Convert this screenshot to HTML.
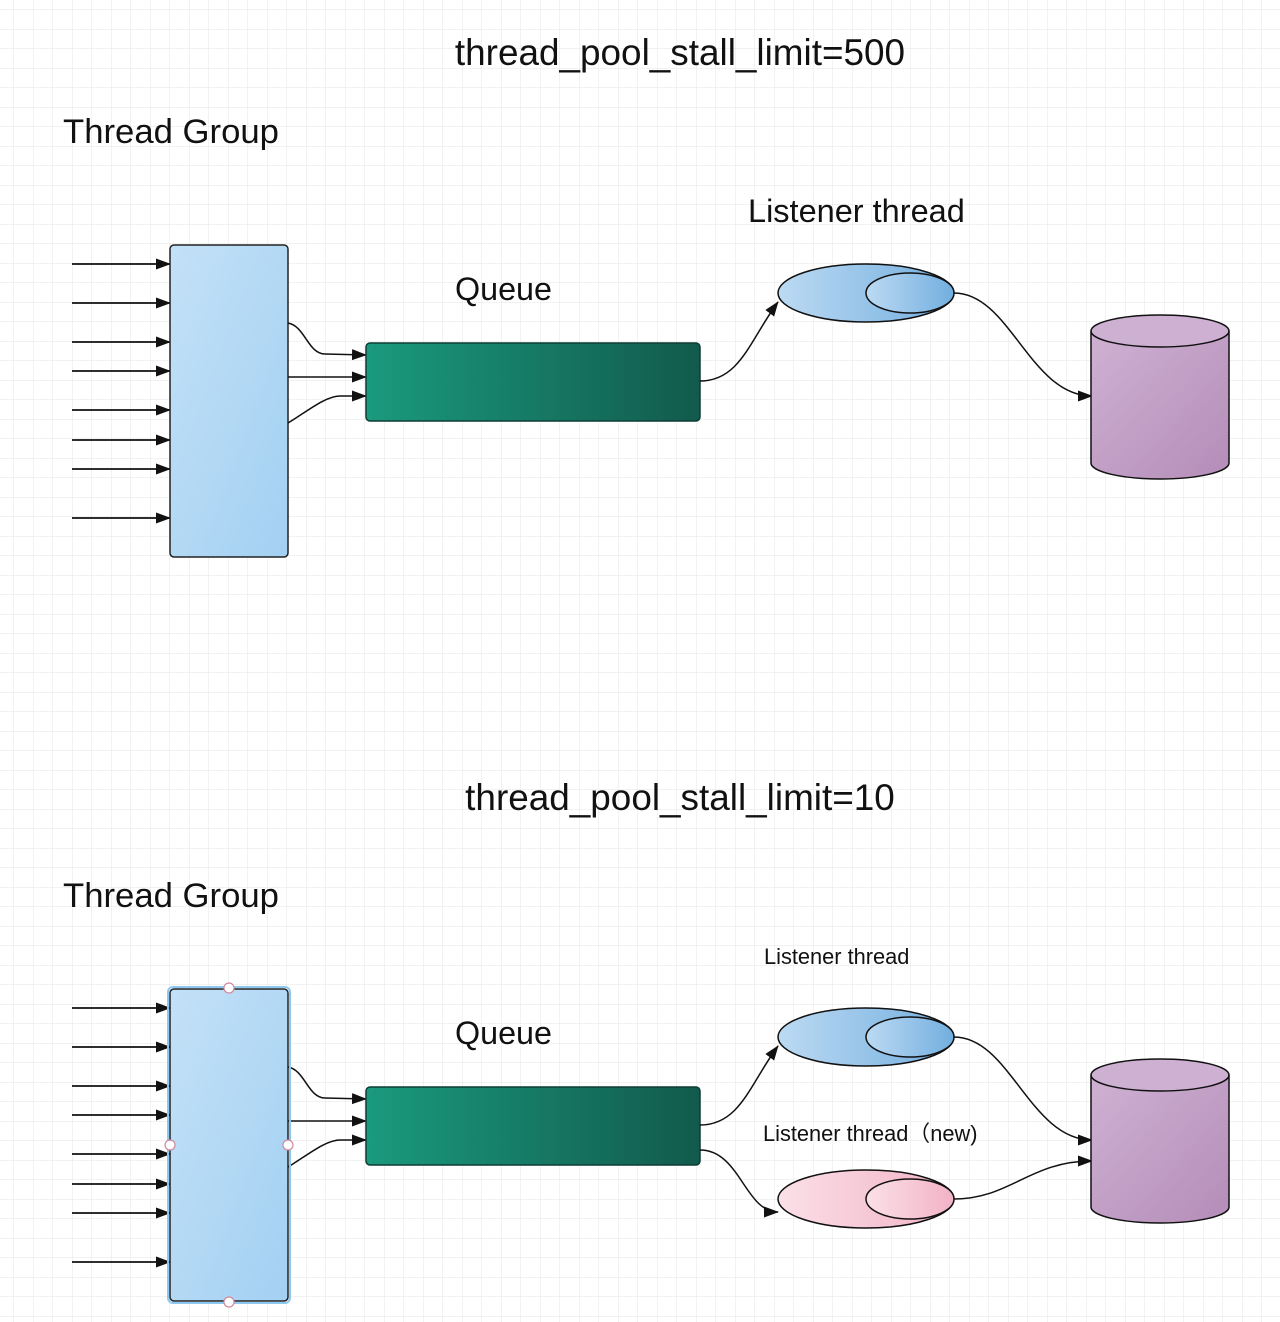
<!DOCTYPE html>
<html><head><meta charset="utf-8"><style>
html,body{margin:0;padding:0;background:#fff}
svg{display:block}
text{font-family:"Liberation Sans",sans-serif;fill:#111}
</style></head><body>
<svg width="1280" height="1322" viewBox="0 0 1280 1322" xmlns="http://www.w3.org/2000/svg">
<defs>
<pattern id="g" width="19.5" height="19.5" patternUnits="userSpaceOnUse" x="14" y="10">
<path d="M19.5 0V19.5M0 19.5H19.5" stroke="#e4e4e4" stroke-width="1" fill="none"/>
</pattern>
<linearGradient id="blue" x1="0" y1="0" x2="1" y2="1"><stop offset="0" stop-color="#c3e1f7"/><stop offset="1" stop-color="#a3d0f2"/></linearGradient>
<linearGradient id="green" x1="0" y1="0" x2="1" y2="0"><stop offset="0" stop-color="#1a9a7e"/><stop offset="1" stop-color="#125a4c"/></linearGradient>
<linearGradient id="ell" x1="0" y1="0" x2="1" y2="0"><stop offset="0" stop-color="#bcdaf3"/><stop offset="1" stop-color="#72aedf"/></linearGradient>
<linearGradient id="pink" x1="0" y1="0" x2="1" y2="0"><stop offset="0" stop-color="#fbe0e8"/><stop offset="1" stop-color="#f2b2c6"/></linearGradient>
<linearGradient id="cyl" x1="0" y1="0" x2="1" y2="1"><stop offset="0" stop-color="#cfb1d3"/><stop offset="1" stop-color="#b48db8"/></linearGradient>
<marker id="a" markerWidth="15" markerHeight="11" refX="14" refY="5.5" orient="auto" markerUnits="userSpaceOnUse"><path d="M0 0L15 5.5L0 11Z" fill="#111"/></marker>
<g id="sec">
<g stroke="#111" stroke-width="1.8" marker-end="url(#a)">
<line x1="72" y1="264" x2="170" y2="264"/><line x1="72" y1="303" x2="170" y2="303"/>
<line x1="72" y1="342" x2="170" y2="342"/><line x1="72" y1="371" x2="170" y2="371"/>
<line x1="72" y1="410" x2="170" y2="410"/><line x1="72" y1="440" x2="170" y2="440"/>
<line x1="72" y1="469" x2="170" y2="469"/><line x1="72" y1="518" x2="170" y2="518"/>
</g>
<rect x="170" y="245" width="118" height="312" rx="4" fill="url(#blue)" stroke="#222" stroke-width="1.5"/>
<g stroke="#111" stroke-width="1.5" fill="none" marker-end="url(#a)">
<path d="M288 323C305 326 308 354 325 354L366 355"/>
<line x1="288" y1="377" x2="366" y2="377"/>
<path d="M288 423C305 413 325 396 340 396L366 396"/>
</g>
<rect x="366" y="343" width="334" height="78" rx="4" fill="url(#green)" stroke="#0d3d33" stroke-width="1.5"/>
<text x="455" y="300" font-size="32.3">Queue</text>
</g>
</defs>
<rect width="1280" height="1322" fill="url(#g)"/>

<text x="680" y="65" font-size="36.9" text-anchor="middle">thread_pool_stall_limit=500</text>
<text x="63" y="143" font-size="34.7">Thread Group</text>
<use href="#sec"/>
<text x="748" y="222" font-size="32.5">Listener thread</text>
<g stroke="#111" stroke-width="1.5" fill="none" marker-end="url(#a)">
<path d="M700 381C740 381 750 340 778 302"/>
<path d="M954 293C1010 293 1030 396 1092 396"/>
</g>
<ellipse cx="866" cy="293" rx="88" ry="29" fill="url(#ell)" stroke="#111" stroke-width="1.5"/>
<ellipse cx="910" cy="293" rx="44" ry="20" fill="url(#ell)" stroke="#111" stroke-width="1.5"/>
<path d="M1091 331V463A69 16 0 0 0 1229 463V331" fill="url(#cyl)" stroke="#111" stroke-width="1.5"/>
<ellipse cx="1160" cy="331" rx="69" ry="16" fill="#cdb0d2" stroke="#111" stroke-width="1.5"/>

<text x="680" y="810" font-size="36.9" text-anchor="middle">thread_pool_stall_limit=10</text>
<text x="63" y="907" font-size="34.7">Thread Group</text>
<g transform="translate(0,744)"><use href="#sec"/></g>
<rect x="168" y="987" width="122" height="316" rx="5" fill="none" stroke="#8cc8f0" stroke-width="2"/>
<g fill="#fff" stroke="#d08a9a" stroke-width="1.2">
<circle cx="229" cy="988" r="5"/><circle cx="229" cy="1302" r="5"/><circle cx="170" cy="1145" r="5"/><circle cx="288" cy="1145" r="5"/>
</g>
<text x="764" y="964" font-size="21.8">Listener thread</text>
<text x="763" y="1141" font-size="21.8">Listener thread（new)</text>
<g stroke="#111" stroke-width="1.5" fill="none" marker-end="url(#a)">
<path d="M700 1125C740 1125 750 1084 778 1046"/>
<path d="M700 1150C740 1150 745 1212 778 1212"/>
<path d="M954 1037C1010 1037 1030 1140 1092 1140"/>
<path d="M954 1199C1010 1199 1030 1161 1092 1161"/>
</g>
<ellipse cx="866" cy="1037" rx="88" ry="29" fill="url(#ell)" stroke="#111" stroke-width="1.5"/>
<ellipse cx="910" cy="1037" rx="44" ry="20" fill="url(#ell)" stroke="#111" stroke-width="1.5"/>
<ellipse cx="866" cy="1199" rx="88" ry="29" fill="url(#pink)" stroke="#111" stroke-width="1.5"/>
<ellipse cx="910" cy="1199" rx="44" ry="20" fill="url(#pink)" stroke="#111" stroke-width="1.5"/>
<path d="M1091 1075V1207A69 16 0 0 0 1229 1207V1075" fill="url(#cyl)" stroke="#111" stroke-width="1.5"/>
<ellipse cx="1160" cy="1075" rx="69" ry="16" fill="#cdb0d2" stroke="#111" stroke-width="1.5"/>
</svg>
</body></html>
